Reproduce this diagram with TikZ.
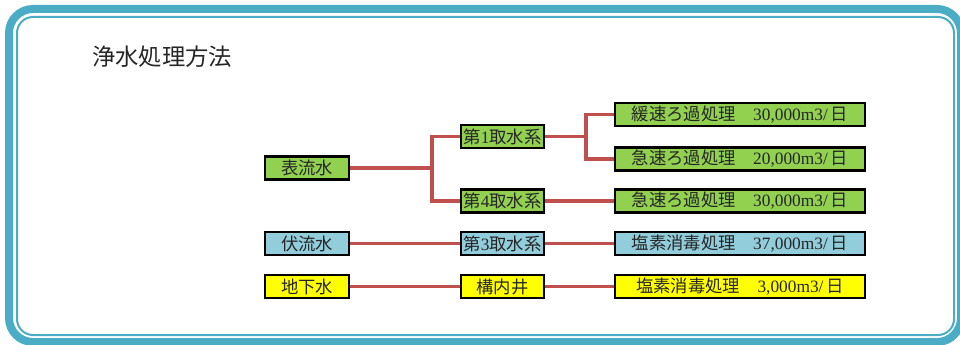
\documentclass[tikz,border=0pt]{standalone}
\usepackage{fontspec}
\setmainfont{Liberation Serif}
\newfontfamily\jp{Noto Sans CJK JP}
\usetikzlibrary{backgrounds}
\definecolor{frame}{HTML}{4BACC6}
\definecolor{conn}{HTML}{C0504D}
\definecolor{fgreen}{HTML}{92D050}
\definecolor{fblue}{HTML}{92CDDC}
\definecolor{fyellow}{HTML}{FFFF00}
\tikzset{
  box/.style={draw=black, line width=1.8pt, inner sep=0pt, text=black!85,
    minimum height=17pt, font=\fontsize{13pt}{15pt}\selectfont},
  lbox/.style={box, minimum width=63pt},
  mbox/.style={box, minimum width=62pt},
  rbox/.style={box, minimum width=187.5pt},
  conline/.style={draw=conn, line width=2.6pt},
}
\begin{document}
\begin{tikzpicture}[x=0.75pt,y=-0.75pt]
\useasboundingbox (0,0) rectangle (960,345);
\clip (0,0) rectangle (960,345);
\begin{scope}[on background layer]
\fill[white] (0,0) rectangle (960,345);
\end{scope}
% frame
\draw[frame, line width=6pt, rounded corners=18pt] (9,9) rectangle (961,342);
\draw[frame, line width=1.5pt, rounded corners=12pt] (17,17) rectangle (954,335);
% title
\node[anchor=west, inner sep=0pt, font=\jp\fontsize{17.5pt}{20pt}\selectfont, text=black!85] (title) at (92,57) {浄水処理方法};
% row boxes
\node[lbox, fill=fgreen] (a) at (307,168) {\jp 表流水};
\node[mbox, fill=fgreen] (b) at (502.5,136.5) {{\jp 第}1{\jp 取水系}};
\node[mbox, fill=fgreen] (c) at (502.5,201) {{\jp 第}4{\jp 取水系}};
\node[rbox, fill=fgreen] (d) at (740,114.5) {{\jp 緩速ろ過処理}\hspace{1em}30,000m3/\,{\jp 日}};
\node[rbox, fill=fgreen] (e) at (740,159) {{\jp 急速ろ過処理}\hspace{1em}20,000m3/\,{\jp 日}};
\node[rbox, fill=fgreen] (f) at (740,201) {{\jp 急速ろ過処理}\hspace{1em}30,000m3/\,{\jp 日}};
\node[lbox, fill=fblue] (g) at (307,243.5) {\jp 伏流水};
\node[mbox, fill=fblue] (h) at (502.5,243.5) {{\jp 第}3{\jp 取水系}};
\node[rbox, fill=fblue] (i) at (740,243.5) {{\jp 塩素消毒処理}\hspace{1em}37,000m3/\,{\jp 日}};
\node[lbox, fill=fyellow] (j) at (307,286.5) {\jp 地下水};
\node[mbox, fill=fyellow] (k) at (502.5,286.5) {\jp 構内井};
\node[rbox, fill=fyellow] (l) at (740,286.5) {{\jp 塩素消毒処理}\hspace{1em}3,000m3/\,{\jp 日}};
\coordinate (j1) at (432,168);
\coordinate (j2) at (586,136.5);
\begin{scope}[on background layer]
\draw[conline] (a.east) -- (j1);
\draw[conline] (j1) |- (b.west);
\draw[conline] (j1) |- (c.west);
\draw[conline] (b.east) -- (j2);
\draw[conline] (j2) |- (d.west);
\draw[conline] (j2) |- (e.west);
\draw[conline] (c.east) -- (f.west);
\draw[conline] (g.east) -- (h.west);
\draw[conline] (h.east) -- (i.west);
\draw[conline] (j.east) -- (k.west);
\draw[conline] (k.east) -- (l.west);
\end{scope}
\end{tikzpicture}
\end{document}
